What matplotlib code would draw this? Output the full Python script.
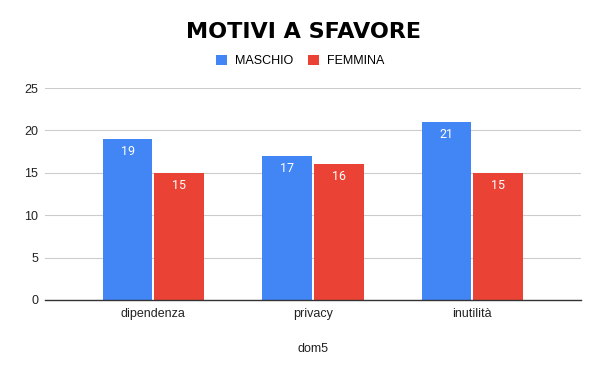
import numpy as np
import matplotlib.pyplot as plt

categories = ['dipendenza', 'privacy', 'inutilità']
maschio = [19, 17, 21]
femmina = [15, 16, 15]
series_names = ['MASCHIO', 'FEMMINA']
colors = ['#4285F4', '#EA4335']
yticks = [0, 5, 10, 15, 20, 25]

plt.rcParams['font.family'] = ['Liberation Sans', 'DejaVu Sans']

fig = plt.figure(figsize=(6, 3.71), dpi=100)
ax = fig.add_axes([0.075, 0.1914, 0.893, 0.5714])

x = np.arange(len(categories))
w = 0.3125
gap = 0.006
bars1 = ax.bar(x - w / 2 - gap, maschio, w, color=colors[0], label=series_names[0], zorder=3)
bars2 = ax.bar(x + w / 2 + gap, femmina, w, color=colors[1], label=series_names[1], zorder=3)

for bars in (bars1, bars2):
    for b in bars:
        ax.text(b.get_x() + b.get_width() / 2, b.get_height() - 0.7, str(int(b.get_height())),
                ha='center', va='top', color='white', fontsize=9, family='Roboto', zorder=4)

ax.set_xlim(-0.68, 2.68)
ax.set_ylim(0, 25)
ax.set_yticks(yticks)
ax.set_xticks(x)
ax.set_xticklabels(categories)
ax.tick_params(axis='both', length=0, labelsize=9, colors='#222222')
ax.tick_params(axis='x', pad=6)
ax.tick_params(axis='y', pad=5)
ax.grid(axis='y', color='#cccccc', linewidth=0.8, zorder=0)
for s in ['top', 'right', 'left']:
    ax.spines[s].set_visible(False)
ax.spines['bottom'].set_color('#333333')
ax.spines['bottom'].set_linewidth(1)
ax.spines['bottom'].set_zorder(5)

ax.set_xlabel('dom5', fontsize=9, color='#222222', labelpad=16)

fig.text(0.505, 0.915, 'MOTIVI A SFAVORE', ha='center', va='center',
         fontsize=16, fontweight='heavy', family='DejaVu Sans', color='black')

fig.legend(loc='center', bbox_to_anchor=(0.5, 0.835), ncol=2, frameon=False,
           fontsize=9, handlelength=0.9, handleheight=0.9, handletextpad=0.6,
           columnspacing=1.2)

fig.savefig('out.png', dpi=100)
